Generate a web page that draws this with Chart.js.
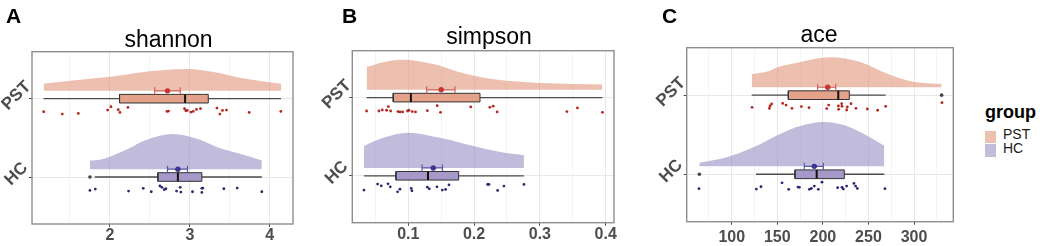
<!DOCTYPE html>
<html><head><meta charset="utf-8">
<script src="https://cdn.jsdelivr.net/npm/chart.js@4.4.1/dist/chart.umd.min.js"></script>
<style>
html,body{margin:0;padding:0;background:#fff;}
body{width:1040px;height:246px;position:relative;overflow:hidden;font-family:'Liberation Sans',Arial,Helvetica,sans-serif;}
.panel{position:absolute;top:0;height:246px;}
.lg{position:absolute;white-space:nowrap;}
</style></head><body>
<div class="panel" style="left:0px;width:300px"><canvas id="cA" width="300" height="246"></canvas></div>
<div class="panel" style="left:320px;width:300px"><canvas id="cB" width="300" height="246"></canvas></div>
<div class="panel" style="left:650px;width:310px"><canvas id="cC" width="310" height="246"></canvas></div>
<div id="legend"></div>
<script>
// ---------- data ----------
const categories = ['HC', 'PST'];          // y value 1, 2
const legendTitle = 'group';
const legendGroups = ['PST', 'HC'];
const panelTitles = ['shannon', 'simpson', 'ace'];
const panelLetters = ['A', 'B', 'C'];

// shannon
const shannonTicks = [2, 3, 4];
const shannonTickLabels = ['2', '3', '4'];
const shannonMinor = [1.5, 2.5, 3.5];
const shannonPstPoints = [1.171,1.404,1.604,1.971,2.013,2.104,2.125,2.225,2.713,2.733,2.933,2.95,2.967,3.013,3.042,3.083,3.133,3.338,3.375,3.408,3.458,3.742,4.138];
const shannonPstJitter = [-0.167,-0.196,-0.188,-0.145,-0.103,-0.141,-0.175,-0.111,-0.162,-0.158,-0.128,-0.154,-0.15,-0.171,-0.162,-0.137,-0.128,-0.12,-0.196,-0.15,-0.145,-0.175,-0.162];
const shannonPstBox = [1.17, 2.12, 2.94, 3.23, 4.14];
const shannonPstOutliers = [];
const shannonPstMean = [2.72, 2.56, 2.88];
const shannonPstDensX = [1.17, 1.5, 2.0, 2.5, 2.96, 3.33, 3.66, 4.14];
const shannonPstDensH = [0.09, 0.13, 0.18, 0.25, 0.28, 0.235, 0.16, 0.09];
const shannonHcPoints = [1.75,1.817,2.233,2.417,2.517,2.625,2.65,2.679,2.7,2.833,2.879,2.888,3.033,3.15,3.15,3.163,3.425,3.592,3.9];
const shannonHcJitter = [-0.171,-0.154,-0.179,-0.145,-0.188,-0.115,-0.132,-0.162,-0.15,-0.179,-0.132,-0.192,-0.188,-0.145,-0.197,-0.141,-0.15,-0.141,-0.188];
const shannonHcBox = [1.81, 2.60, 2.85, 3.15, 3.90];
const shannonHcOutliers = [1.75];
const shannonHcMean = [2.85, 2.72, 2.97];
const shannonHcDensX = [1.75, 1.875, 2.0, 2.25, 2.42, 2.79, 3.12, 3.37, 3.65, 3.90];
const shannonHcDensH = [0.11, 0.12, 0.16, 0.27, 0.36, 0.45, 0.38, 0.27, 0.19, 0.11];

// simpson
const simpsonTicks = [0.1, 0.2, 0.3, 0.4];
const simpsonTickLabels = ['0.1', '0.2', '0.3', '0.4'];
const simpsonMinor = [0.05, 0.15, 0.25, 0.35];
const simpsonPstPoints = [0.0367,0.0555,0.0605,0.0671,0.0697,0.0732,0.0843,0.0874,0.0914,0.099,0.101,0.106,0.111,0.129,0.144,0.149,0.195,0.224,0.229,0.235,0.341,0.357,0.395];
const simpsonPstJitter = [-0.171,-0.171,-0.158,-0.162,-0.115,-0.171,-0.179,-0.183,-0.183,-0.171,-0.162,-0.179,-0.183,-0.167,-0.103,-0.188,-0.119,-0.124,-0.11,-0.183,-0.179,-0.132,-0.188];
const simpsonPstBox = [0.0368, 0.0772, 0.104, 0.209, 0.395];
const simpsonPstOutliers = [];
const simpsonPstMean = [0.150, 0.128, 0.171];
const simpsonPstDensX = [0.0368, 0.06, 0.09, 0.138, 0.174, 0.209, 0.25, 0.30, 0.351, 0.395];
const simpsonPstDensH = [0.29, 0.35, 0.385, 0.33, 0.235, 0.163, 0.115, 0.086, 0.073, 0.068];
const simpsonHcPoints = [0.0327,0.0535,0.059,0.0692,0.0727,0.0838,0.0874,0.1046,0.1056,0.129,0.132,0.1436,0.1517,0.1568,0.1619,0.2206,0.2226,0.2358,0.2454,0.2758];
const simpsonHcJitter = [-0.183,-0.106,-0.128,-0.103,-0.141,-0.205,-0.171,-0.162,-0.192,-0.145,-0.167,-0.141,-0.183,-0.175,-0.115,-0.11,-0.11,-0.187,-0.132,-0.11];
const simpsonHcBox = [0.0327, 0.0813, 0.130, 0.1766, 0.2758];
const simpsonHcOutliers = [];
const simpsonHcMean = [0.138, 0.121, 0.152];
const simpsonHcDensX = [0.0327, 0.062, 0.1, 0.148, 0.199, 0.234, 0.2758];
const simpsonHcDensH = [0.28, 0.385, 0.45, 0.385, 0.28, 0.215, 0.163];

// ace
const aceTicks = [100, 150, 200, 250, 300];
const aceTickLabels = ['100', '150', '200', '250', '300'];
const aceMinor = [75, 125, 175, 225, 275, 325];
const acePstPoints = [122.3,141.3,142.0,143.8,155.9,159.6,166.1,176.4,184.8,204.2,206.4,217.0,217.3,220.6,221.0,226.1,226.8,230.9,236.3,248.8,260.1,268.9,330.7];
const acePstJitter = [-0.154,-0.166,-0.137,-0.112,-0.104,-0.125,-0.166,-0.145,-0.158,-0.17,-0.125,-0.137,-0.179,-0.108,-0.141,-0.1875,-0.15,-0.108,-0.166,-0.175,-0.191,-0.141,-0.095];
const acePstBox = [121.9, 162.1, 216.9, 229.0, 268.9];
const acePstOutliers = [330.3];
const acePstMean = [205.3, 194.3, 214.1];
const acePstDensX = [121.9, 142, 149.4, 168, 208, 241, 270, 299, 330.3];
const acePstDensH = [0.166, 0.21, 0.25, 0.30, 0.38, 0.32, 0.175, 0.07, 0.04];
const aceHcPoints = [64.1,127.0,132.1,155.2,162.5,172.7,174.2,185.2,187.4,190.6,195.0,199.0,216.2,221.0,222.4,226.1,234.1,235.9,237.8,268.1];
const aceHcJitter = [-0.183,-0.1875,-0.158,-0.108,-0.191,-0.1625,-0.166,-0.191,-0.179,-0.15,-0.191,-0.1,-0.17,-0.166,-0.1875,-0.15,-0.116,-0.15,-0.179,-0.183];
const aceHcBox = [126.7, 169.4, 193.2, 223.5, 267.4];
const aceHcOutliers = [64.5];
const aceHcMean = [190.6, 179.6, 200.5];
const aceHcDensX = [64.5, 94.5, 123.8, 153, 175, 200.5, 226.1, 248.1, 267.4];
const aceHcDensH = [0.046, 0.116, 0.24, 0.41, 0.51, 0.56, 0.51, 0.39, 0.26];

// ---------- styles ----------
const FONT = "'Liberation Sans', Arial, Helvetica, sans-serif";
const STY = {
  PST: {violin: 'rgba(224,149,122,0.6)', box: '#E4A28A', pt: '#B5261E', mean: '#C9352C', err: '#D0605A', sw: '#ECC0AE'},
  HC:  {violin: 'rgba(154,143,196,0.6)', box: '#A699C9', pt: '#2B2870', mean: '#3A3590', err: '#5A55A2', sw: '#C3BDDB'}
};
const VOFF = 0.1, BH = 0.055, CAP = 0.045;

function groupDatasets(name, pts, jit, box, outl, mean, dx, dh) {
  const r = categories.indexOf(name) + 1;
  const s = STY[name];
  const base = r + VOFF;
  const ds = [];
  ds.push({data: dx.map((x, i) => ({x, y: base + dh[i]})), showLine: true, fill: {value: base},
    backgroundColor: s.violin, borderWidth: 0, pointRadius: 0, cubicInterpolationMode: 'monotone', order: 50});
  ds.push({data: [{x: box[0], y: r}, {x: box[4], y: r}], showLine: true, borderColor: '#4a4a4a',
    borderWidth: 1.3, pointRadius: 0, order: 40});
  ds.push({data: [{x: box[1], y: r - BH}, {x: box[3], y: r - BH}, {x: box[3], y: r + BH}, {x: box[1], y: r + BH}, {x: box[1], y: r - BH}],
    showLine: true, fill: 'shape', backgroundColor: s.box, borderColor: '#333', borderWidth: 1, pointRadius: 0, order: 30});
  ds.push({data: [{x: box[2], y: r - BH}, {x: box[2], y: r + BH}], showLine: true, borderColor: '#111',
    borderWidth: 2, pointRadius: 0, order: 29});
  if (outl.length) ds.push({data: outl.map(x => ({x, y: r})), pointRadius: 1.8, pointBackgroundColor: '#444',
    pointBorderWidth: 0, order: 20});
  ds.push({data: pts.map((x, i) => ({x, y: r + jit[i]})), pointRadius: 1.4, pointBackgroundColor: s.pt,
    pointBorderWidth: 0, order: 10});
  const [m, lo, hi] = mean;
  ds.push({data: [{x: lo, y: base - CAP}, {x: lo, y: base + CAP}, {x: lo, y: null}, {x: lo, y: base}, {x: hi, y: base},
    {x: hi, y: null}, {x: hi, y: base - CAP}, {x: hi, y: base + CAP}], showLine: true, spanGaps: false,
    borderColor: s.err, borderWidth: 1.2, pointRadius: 0, order: 5});
  ds.push({data: [{x: m, y: base}], pointRadius: 2.7, pointBackgroundColor: s.mean, pointBorderWidth: 0, order: 1});
  return ds;
}

const decor = {
  id: 'decor',
  afterDatasetsDraw(chart, args, o) {
    const {ctx, chartArea: a} = chart;
    ctx.save();
    ctx.strokeStyle = '#8e8e8e'; ctx.lineWidth = 1.4;
    ctx.strokeRect(a.left, a.top, a.right - a.left, a.bottom - a.top);
    ctx.restore();
  },
  afterDraw(chart, args, o) {
    const ctx = chart.ctx;
    ctx.save();
    ctx.fillStyle = '#000';
    ctx.textBaseline = 'alphabetic';
    ctx.textAlign = 'center';
    ctx.font = '23px ' + FONT;
    ctx.fillText(o.title, o.titleX, o.titleY);
    ctx.textAlign = 'left';
    ctx.font = 'bold 21px ' + FONT;
    ctx.fillText(o.letter, o.letterX, o.letterY);
    ctx.restore();
  }
};

function makeChart(id, L, datasets) {
  const all = L.majors.concat(L.minors).sort((a, b) => a - b);
  const isMajor = v => L.majors.includes(v);
  return new Chart(document.getElementById(id), {
    type: 'scatter',
    data: {datasets},
    plugins: [decor],
    options: {
      responsive: false, animation: false, events: [],
      layout: {padding: {top: L.top, right: L.padRight, left: 0, bottom: 0}},
      plugins: {legend: {display: false}, tooltip: {enabled: false},
        decor: {title: L.title, titleX: L.titleX, titleY: L.titleY, letter: L.letter, letterX: L.letterX, letterY: L.letterY}},
      scales: {
        x: {type: 'linear', min: L.xmin, max: L.xmax,
          afterBuildTicks: s => { s.ticks = all.map(v => ({value: v})); },
          afterFit: s => { s.height = L.xh; },
          ticks: {autoSkip: false, maxRotation: 0, padding: L.xpad, color: '#4D4D4D',
            font: {family: FONT, size: 16, weight: 'bold'},
            callback: v => isMajor(v) ? L.labels[L.majors.indexOf(v)] : ''},
          grid: {color: c => (c.tick && isMajor(c.tick.value)) ? '#E8E8E8' : '#F1F1F1',
            lineWidth: c => (c.tick && isMajor(c.tick.value)) ? 1 : 0.7,
            tickLength: 3, tickWidth: 1,
            tickColor: c => (c.tick && isMajor(c.tick.value)) ? '#444' : 'rgba(0,0,0,0)'},
          border: {display: false}},
        y: {type: 'linear', min: 0.4, max: 2.6,
          afterBuildTicks: s => { s.ticks = categories.map((c, i) => ({value: i + 1})); },
          afterFit: s => { s.width = L.yw; },
          ticks: {autoSkip: false, minRotation: 45, maxRotation: 45, crossAlign: 'center', padding: -4,
            labelOffset: -3, color: '#4D4D4D', font: {family: FONT, size: 17, weight: 'bold'},
            callback: v => categories[Math.round(v) - 1]},
          grid: {color: '#E8E8E8', lineWidth: 1, tickLength: 3, tickWidth: 1, tickColor: '#444'},
          border: {display: false}}
      }
    }
  });
}

makeChart('cA', {top: 51.7, padRight: 7, xh: 22, yw: 32, xpad: -1, xmin: 1.025, xmax: 4.29,
  majors: shannonTicks, minors: shannonMinor, labels: shannonTickLabels,
  title: panelTitles[0], titleX: 168.5, titleY: 46.5, letter: panelLetters[0], letterX: 6, letterY: 23},
  [].concat(
    groupDatasets('PST', shannonPstPoints, shannonPstJitter, shannonPstBox, shannonPstOutliers, shannonPstMean, shannonPstDensX, shannonPstDensH),
    groupDatasets('HC', shannonHcPoints, shannonHcJitter, shannonHcBox, shannonHcOutliers, shannonHcMean, shannonHcDensX, shannonHcDensH)));

makeChart('cB', {top: 50.7, padRight: 6, xh: 23.3, yw: 32.3, xpad: -0.5, xmin: 0.015, xmax: 0.4126,
  majors: simpsonTicks, minors: simpsonMinor, labels: simpsonTickLabels,
  title: panelTitles[1], titleX: 169, titleY: 43.5, letter: panelLetters[1], letterX: 22, letterY: 23},
  [].concat(
    groupDatasets('PST', simpsonPstPoints, simpsonPstJitter, simpsonPstBox, simpsonPstOutliers, simpsonPstMean, simpsonPstDensX, simpsonPstDensH),
    groupDatasets('HC', simpsonHcPoints, simpsonHcJitter, simpsonHcBox, simpsonHcOutliers, simpsonHcMean, simpsonHcDensX, simpsonHcDensH)));

makeChart('cC', {top: 47.7, padRight: 6.7, xh: 24.3, yw: 36.7, xpad: 3, xmin: 50.6, xmax: 343.1,
  majors: aceTicks, minors: aceMinor, labels: aceTickLabels,
  title: panelTitles[2], titleX: 169, titleY: 41.7, letter: panelLetters[2], letterX: 12, letterY: 23},
  [].concat(
    groupDatasets('PST', acePstPoints, acePstJitter, acePstBox, acePstOutliers, acePstMean, acePstDensX, acePstDensH),
    groupDatasets('HC', aceHcPoints, aceHcJitter, aceHcBox, aceHcOutliers, aceHcMean, aceHcDensX, aceHcDensH)));

// legend
(function () {
  const lg = document.getElementById('legend');
  const t = document.createElement('div');
  t.className = 'lg'; t.textContent = legendTitle;
  t.style.cssText = 'left:985px;top:102.6px;font-size:18px;line-height:18px;font-weight:bold;color:#000';
  lg.appendChild(t);
  legendGroups.forEach((g, i) => {
    const sw = document.createElement('div');
    sw.className = 'lg';
    sw.style.cssText = 'left:985px;top:' + (130.5 + i * 13.5) + 'px;width:11px;height:12.5px;background:' + STY[g].sw;
    lg.appendChild(sw);
    const lb = document.createElement('div');
    lb.className = 'lg'; lb.textContent = g;
    lb.style.cssText = 'left:1003px;top:' + (126.5 + i * 14) + 'px;font-size:14px;line-height:14px;color:#1a1a1a';
    lg.appendChild(lb);
  });
})();
</script>
</body></html>
